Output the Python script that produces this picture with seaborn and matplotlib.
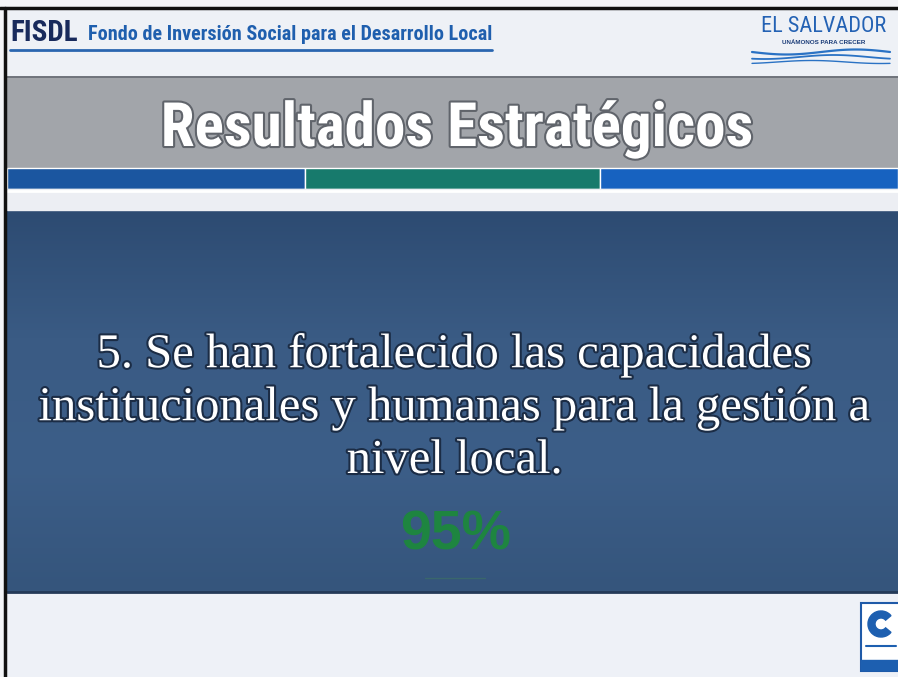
import numpy as np
import matplotlib.pyplot as plt
import matplotlib.patheffects as pe
import seaborn as sns
from matplotlib.patches import Rectangle, Wedge
from matplotlib.colors import LinearSegmentedColormap

# -------------------------------
# slide content
header_short = "FISDL"
header_long = "Fondo de Inversión Social para el Desarrollo Local"
logo_text = "EL SALVADOR"
logo_sub = "UNÁMONOS PARA CRECER"
slide_title = "Resultados Estratégicos"
statement_lines = [
    "5. Se han fortalecido las capacidades",
    "institucionales y humanas para la gestión a",
    "nivel local.",
]
result_value = [95]

# colour stripe under the title (left, middle, right)
stripe_widths = [298, 295, 298]
stripe_colors = ["#1b56a0", "#177a6c", "#1762c0"]

# -------------------------------
sns.set_theme(style="white")
plt.rcParams['font.family'] = ['Liberation Sans', 'DejaVu Sans']
COND = ['Roboto Condensed', 'Liberation Sans']

fig = plt.figure(figsize=(8.98, 6.77), dpi=100)
fig.patch.set_facecolor("#f4f5f8")
ax = fig.add_axes([0, 0, 1, 1])
ax.axis('off')

# header
ax.add_patch(Rectangle((7, 9), 891, 68, color="#eef1f6"))
ax.text(10, 33, header_short, fontsize=21, fontweight='bold', color="#182a5c",
        family=COND, va='center', ha='left')
ax.text(88, 35, header_long, fontsize=14.5, fontweight='bold', color="#1f5fae",
        family=COND, va='center', ha='left')
ax.plot([10, 492], [50, 50], color="#2a66b0", lw=2)

# EL SALVADOR logo
ax.text(824, 26, logo_text, fontsize=16, color="#2462b4",
        family=COND, va='center', ha='center')
ax.text(824, 42, logo_sub, fontsize=4.5, fontweight='bold', color="#1b3c78",
        va='center', ha='center')
xw = np.linspace(752, 890, 100)
for k, (amp, off) in enumerate([(2.5, 52), (2.0, 57), (1.5, 62)]):
    ax.plot(xw, off + amp * np.sin((xw - 752) / 22 + k), color="#2a72c4", lw=1.6 - 0.3 * k)

# gray title band
ax.plot([7, 898], [77, 77], color="#5a5e66", lw=1.2)
ax.add_patch(Rectangle((7, 78), 891, 90, color="#a2a5aa"))
ax.text(457, 129, slide_title, fontsize=44, fontweight='bold', color="white",
        family=COND, ha='center', va='center',
        path_effects=[pe.withStroke(linewidth=3, foreground="#60646b")])

# colour stripe
lefts = np.concatenate([[7], 7 + np.cumsum(stripe_widths)[:-1]])
ax.barh([178] * 3, stripe_widths, left=lefts, height=21, color=stripe_colors)

# light band
ax.add_patch(Rectangle((7, 189), 891, 21, color="#eceef3"))
ax.plot([7, 898], [191, 191], color="white", lw=2)

# blue content panel (vertical gradient)
cmap = LinearSegmentedColormap.from_list("panel", ["#2d4b72", "#3a5b84", "#3c5e88", "#35557c"])
grad = np.linspace(0, 1, 200).reshape(-1, 1)
ax.imshow(grad, extent=(7, 898, 592, 210), origin='upper', aspect='auto', cmap=cmap)
ax.plot([7, 898], [592, 592], color="#243a58", lw=2)

for i, line in enumerate(statement_lines):
    ax.text(455, 355 + i * 53, line, fontsize=35, color="white",
            family='Liberation Serif', ha='center', va='center',
            path_effects=[pe.withStroke(linewidth=3, foreground="#1b2c45")])

ax.text(456, 535, f"{result_value[0]}%", fontsize=40, fontweight='bold',
        color="#1e8540", family='Liberation Sans', ha='center', va='center')
ax.plot([425, 485], [578, 578], color="#3f7a5c", lw=1, alpha=0.5)

# bottom area
ax.add_patch(Rectangle((7, 593), 891, 84, color="#eef1f7"))

# bottom-right logo
ax.add_patch(Rectangle((861, 603), 40, 68, facecolor="white", edgecolor="#1f5aa8", lw=1.5))
ax.add_patch(Wedge((881, 624), 13, 40, 320, width=7, color="#1d5fb0"))
ax.plot([866, 896], [646, 646], color="#1d5fb0", lw=1.5)
ax.add_patch(Rectangle((861, 660), 40, 10, color="#1d5fb0"))

# scan border
ax.plot([0, 898], [8, 8], color="#111111", lw=2.5)
ax.plot([5, 5], [8, 677], color="#111111", lw=2.5)

ax.set_xlim(0, 898)
ax.set_ylim(677, 0)

fig.savefig("out.png", dpi=100)
